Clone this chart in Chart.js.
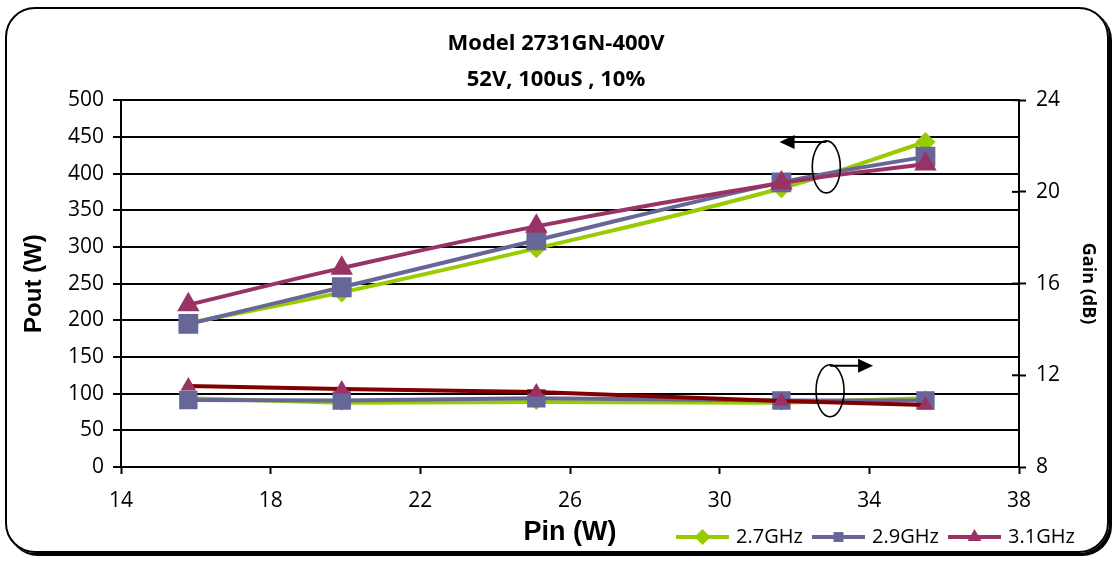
<!DOCTYPE html>
<html>
<head>
<meta charset="utf-8">
<title>Model 2731GN-400V</title>
<script src="https://cdn.jsdelivr.net/npm/chart.js"></script>
<style>
  html, body { margin: 0; padding: 0; background: #fff; }
  #wrap { position: relative; width: 1112px; height: 561px; }
  #frame {
    position: absolute; left: 5px; top: 7px; width: 1100px; height: 542px;
    border: 2px solid #000; border-radius: 30px;
    box-shadow: 3px 3px 0 #000; pointer-events: none;
  }
</style>
</head>
<body>
<div id="wrap">
  <canvas id="chart" width="1112" height="561"></canvas>
  <div id="frame"></div>
</div>
<script>
// data
const pin = [15.8, 19.9, 25.1, 31.65, 35.5];
const pout27 = [196, 238, 298, 380, 443];
const pout29 = [195, 245, 309, 388, 423];
const pout31 = [221, 271, 328, 387, 413];
const gain27 = [11.0, 10.8, 10.83, 10.8, 11.0];
const gain29 = [10.92, 10.9, 11.0, 10.9, 10.9];
const gain31 = [11.53, 11.4, 11.27, 10.88, 10.7];
const seriesNames = ['2.7GHz', '2.9GHz', '3.1GHz'];
const titleLines = ['Model 2731GN-400V', '52V, 100uS , 10%'];

// the ovals + arrows that tell which curves go with which axis ([pin, pout])
const ovals = [[32.85, 409], [32.95, 104]];
const arrows = [[32.85, 443, 31.6], [32.95, 138, 34.1]];

const GREEN = '#99cc00';
const BLUE = '#666699';
const PLUM = '#993366';
const MAROON = '#800000';

function pts(ys) {
  return pin.map((x, i) => ({ x: x, y: ys[i] }));
}

function poutSet(label, ys, color, style, r, order) {
  return {
    label: label, data: pts(ys), yAxisID: 'y',
    borderColor: color, backgroundColor: color, borderWidth: 4,
    pointStyle: style, pointRadius: r, pointBorderWidth: 0,
    pointBackgroundColor: color, tension: 0.4, order: order
  };
}

function gainSet(label, ys, color, markColor, style, r, order) {
  return {
    label: label, data: pts(ys), yAxisID: 'y1',
    borderColor: color, backgroundColor: markColor, borderWidth: 4,
    pointStyle: style, pointRadius: r, pointBorderWidth: 0,
    pointBackgroundColor: markColor, tension: 0, order: order
  };
}

const tickFont = { family: '"Open Sans", sans-serif', size: 21 };

// extra drawing: inner tick marks on the gain axis, ovals/arrows, legend
const extras = {
  id: 'extras',
  afterDraw(chart) {
    const ctx = chart.ctx;
    const xs = chart.scales.x, ys = chart.scales.y, g = chart.scales.y1;
    ctx.save();

    // gain ticks cross the axis line
    ctx.strokeStyle = '#000';
    ctx.lineWidth = 2;
    g.ticks.forEach(t => {
      const py = g.getPixelForValue(t.value);
      ctx.beginPath();
      ctx.moveTo(g.left - 7, py);
      ctx.lineTo(g.left, py);
      ctx.stroke();
    });

    ctx.lineWidth = 1.6;
    ovals.forEach(o => {
      ctx.beginPath();
      ctx.ellipse(xs.getPixelForValue(o[0]), ys.getPixelForValue(o[1]), 14, 26, 0, 0, Math.PI * 2);
      ctx.stroke();
    });

    arrows.forEach(a => {
      const x0 = xs.getPixelForValue(a[0]);
      const x1 = xs.getPixelForValue(a[2]);
      const py = ys.getPixelForValue(a[1]);
      const dir = x1 > x0 ? 1 : -1;
      ctx.lineWidth = 2;
      ctx.beginPath();
      ctx.moveTo(x0, py);
      ctx.lineTo(x1 - dir * 12, py);
      ctx.stroke();
      ctx.fillStyle = '#000';
      ctx.beginPath();
      ctx.moveTo(x1, py);
      ctx.lineTo(x1 - dir * 15, py - 7);
      ctx.lineTo(x1 - dir * 15, py + 7);
      ctx.closePath();
      ctx.fill();
    });

    // legend (line with marker in the middle, like the original)
    const ly = 537;
    const starts = [676, 812, 948];
    const legendR = [8, 7, 8];
    ctx.font = '20px "Open Sans", sans-serif';
    ctx.textBaseline = 'middle';
    ctx.textAlign = 'left';
    seriesNames.forEach((name, i) => {
      const ds = chart.data.datasets[i];
      const lx = starts[i];
      ctx.strokeStyle = ds.borderColor;
      ctx.lineWidth = 4;
      ctx.beginPath();
      ctx.moveTo(lx, ly);
      ctx.lineTo(lx + 53, ly);
      ctx.stroke();
      ctx.fillStyle = ds.borderColor;
      Chart.helpers.drawPoint(ctx, { pointStyle: ds.pointStyle, radius: legendR[i], rotation: 0, borderWidth: 0 }, lx + 26.5, ly);
      ctx.fillStyle = '#000';
      ctx.fillText(name, lx + 60, ly);
    });
    ctx.restore();
  }
};

new Chart(document.getElementById('chart'), {
  type: 'line',
  data: {
    datasets: [
      poutSet(seriesNames[0], pout27, GREEN, 'rectRot', 10, 6),
      poutSet(seriesNames[1], pout29, BLUE, 'rect', 14, 5),
      poutSet(seriesNames[2], pout31, PLUM, 'triangle', 13, 4),
      gainSet('Gain ' + seriesNames[0], gain27, GREEN, GREEN, 'rectRot', 8, 3),
      gainSet('Gain ' + seriesNames[1], gain29, BLUE, BLUE, 'rect', 13, 2),
      gainSet('Gain ' + seriesNames[2], gain31, MAROON, PLUM, 'triangle', 9, 1)
    ]
  },
  options: {
    responsive: false,
    animation: false,
    devicePixelRatio: 1,
    layout: { padding: 0 },
    plugins: {
      legend: { display: false },
      tooltip: { enabled: false },
      title: {
        display: true,
        text: titleLines,
        color: '#000',
        font: { family: '"Open Sans", sans-serif', size: 22, weight: 'bold', lineHeight: 1.64 },
        padding: { top: 26, bottom: 2 }
      }
    },
    scales: {
      x: {
        type: 'linear',
        min: 14, max: 38,
        afterFit(scale) { scale.height = 94; },
        ticks: { stepSize: 4, color: '#000', font: tickFont, padding: 14 },
        grid: { drawOnChartArea: false, tickLength: 7, tickColor: '#000', tickWidth: 2 },
        border: { color: '#000', width: 2 },
        title: {
          display: true, text: 'Pin (W)', color: '#000',
          font: { family: 'Liberation Sans', size: 27, weight: 'bold' },
          padding: { top: 0, bottom: 12 }
        }
      },
      y: {
        type: 'linear', position: 'left',
        min: 0, max: 500,
        afterFit(scale) { scale.width = 121; },
        ticks: { stepSize: 50, color: '#000', font: tickFont, padding: 9 },
        grid: { color: '#000', lineWidth: 2, tickLength: 8, tickColor: '#000', tickWidth: 2 },
        border: { color: '#000', width: 2 },
        title: {
          display: true, text: 'Pout (W)', color: '#000',
          font: { family: 'Liberation Sans', size: 24, weight: 'bold' },
          padding: { top: 20, bottom: 0 }
        }
      },
      y1: {
        type: 'linear', position: 'right',
        min: 8, max: 24,
        afterFit(scale) { scale.width = 93; },
        ticks: { stepSize: 4, color: '#000', font: tickFont, padding: 10 },
        grid: { drawOnChartArea: false, tickLength: 7, tickColor: '#000', tickWidth: 2 },
        border: { color: '#000', width: 2 },
        title: {
          display: true, text: 'Gain (dB)', color: '#000',
          font: { family: '"Open Sans", sans-serif', size: 18, weight: 'bold' },
          padding: { top: 13, bottom: 0 }
        }
      }
    }
  },
  plugins: [extras]
});
</script>
</body>
</html>
